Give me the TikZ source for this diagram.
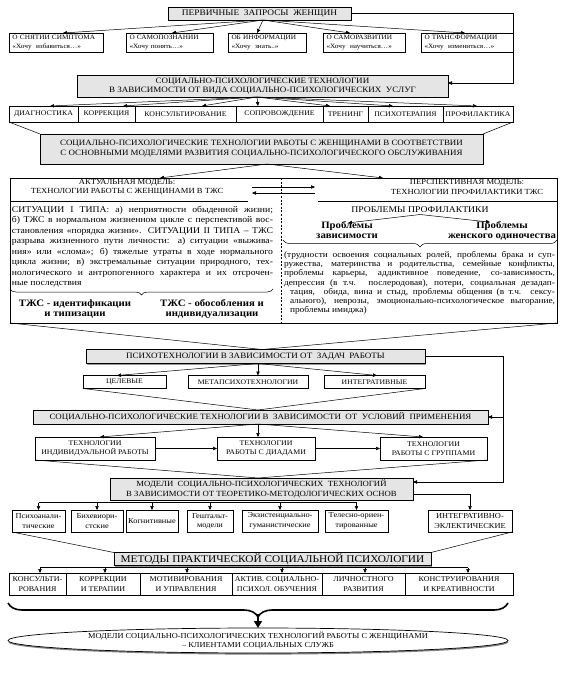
\documentclass[tikz,border=0pt]{standalone}
\usepackage{fontspec}
\setmainfont{Liberation Serif}[FakeStretch=1.1]
\usetikzlibrary{arrows.meta,shapes.geometric,shadows,decorations.pathreplacing,calc}
\newcommand\fsz[2]{\fontsize{#1}{#2}\selectfont}
\newcommand\jl[2]{\makebox[#1][s]{#2}}
\begin{document}
\begin{tikzpicture}[x=1pt,y=-1pt,
  every node/.style={inner sep=0pt,outer sep=0pt},
  box/.style={draw,line width=0.5pt,fill=white,align=center},
  gbox/.style={draw,line width=0.6pt,fill=gray!20,align=center,
     drop shadow={shadow xshift=1.3pt,shadow yshift=-1.3pt,fill=black!80}},
  arr/.style={line width=0.5pt,-{Triangle[length=4pt,width=3.4pt]}},
  ln/.style={line width=0.5pt},
  qb/.style={box,minimum height=19pt,align=left,inner xsep=3.5pt,font=\fsz{6.6}{8.2}},
  db/.style={box,minimum height=16pt,font=\fsz{7.1}{8}},
  sb/.style={box,minimum height=13pt,font=\fsz{7}{8}},
  tb/.style={box,minimum height=23pt,font=\fsz{7.1}{9.5}},
  mb/.style={box,minimum height=22pt,font=\fsz{7.6}{9.5}},
  kb/.style={box,minimum height=22pt,font=\fsz{7.3}{9.5}},
  lt/.style={anchor=base west,font=\fsz{8.8}{10}},
  rt/.style={anchor=base west,font=\fsz{8.5}{10}},
  bl/.style={align=center,font=\bfseries\fsz{9.8}{10}},
  brc/.style={ln,decorate,decoration={brace,mirror,amplitude=#1}},
]
\useasboundingbox (0,0) rectangle (565,681);
\fill[white] (0,0) rectangle (565,681);

% ---- top level
\node[gbox,minimum width=183pt,minimum height=13pt,font=\fsz{8.5}{9}] (T0) at (259.5,13.5) {ПЕРВИЧНЫЕ\ \ ЗАПРОСЫ\ \ ЖЕНЩИН};
\node[qb,text width=87pt] (Q1) at (56,42.5) {О СНЯТИИ СИМПТОМА\\«Хочу\ \ избавиться…»};
\node[qb,text width=80pt] (Q2) at (169.5,42.5) {О САМОПОЗНАНИИ\\«Хочу понять…»};
\node[qb,text width=71pt] (Q3) at (267,42.5) {ОБ ИНФОРМАЦИИ\\«Хочу\ \ знать..»};
\node[qb,text width=75pt] (Q4) at (364,42.5) {О САМОРАЗВИТИИ\\«Хочу\ \ научиться…»};
\node[qb,text width=85pt] (Q5) at (467,42.5) {О ТРАНСФОРМАЦИИ\\«Хочу\ \ измениться…»};
\coordinate (s1) at ($(T0.south)+(3.5,0)$);
\foreach \n/\d in {Q1/7,Q2/2.5,Q3/-10,Q4/-14,Q5/-2} \draw[arr] (s1) -- ([xshift=\d pt]\n.north);

\node[gbox,minimum width=371pt,minimum height=22pt,font=\fsz{8.2}{8.8}] (B2) at (262.5,86) {СОЦИАЛЬНО-ПСИХОЛОГИЧЕСКИЕ ТЕХНОЛОГИИ\\В ЗАВИСИМОСТИ ОТ ВИДА СОЦИАЛЬНО-ПСИХОЛОГИЧЕСКИХ\ \ УСЛУГ};
\coordinate (c1) at (513,83);
\draw[arr] (T0.east) -| (c1) -- (c1 -| B2.east);

\node[db,minimum width=69pt] (D1) at (43.5,114) {ДИАГНОСТИКА};
\node[db,minimum width=57pt] (D2) at (106.5,114) {КОРРЕКЦИЯ};
\node[db,minimum width=101pt] (D3) at (185.5,114) {КОНСУЛЬТИРОВАНИЕ};
\node[db,minimum width=87pt] (D4) at (279.5,114) {СОПРОВОЖДЕНИЕ};
\node[db,minimum width=45pt] (D5) at (345.5,114) {ТРЕНИНГ};
\node[db,minimum width=75pt] (D6) at (405.5,114) {ПСИХОТЕРАПИЯ};
\node[db,minimum width=70pt] (D7) at (478,114) {ПРОФИЛАКТИКА};
\coordinate (s2) at ($(B2.south)+(-5.5,0)$);
\foreach \n/\d in {D1/6.5,D2/16.5,D3/16.5,D4/-21.5,D5/-15.5,D6/-12.5,D7/-1} \draw[arr] (s2) -- ([xshift=\d pt]\n.north);

\node[gbox,minimum width=443pt,minimum height=30pt,font=\fsz{8.1}{10}] (B3) at (261.5,149) {СОЦИАЛЬНО-ПСИХОЛОГИЧЕСКИЕ ТЕХНОЛОГИИ РАБОТЫ С ЖЕНЩИНАМИ В СООТВЕТСТВИИ\\С ОСНОВНЫМИ МОДЕЛЯМИ РАЗВИТИЯ СОЦИАЛЬНО-ПСИХОЛОГИЧЕСКОГО ОБСЛУЖИВАНИЯ};
\draw[ln] (D1.south west) -- (B3.north west);
\draw[ln] (D7.south east) -- (B3.north east);

% ---- big frame
\node[draw,line width=0.8pt,minimum width=547pt,minimum height=145pt] (F) at (283.5,250.5) {};
\coordinate (s3) at ($(B3.south)+(5.5,0)$);
\draw[arr] (s3) -- ([xshift=-123.5pt]F.north);
\draw[arr] (s3) -- ([xshift=99.5pt]F.north);
\coordinate (dv) at (281,250);
\draw[ln,dash pattern=on 2pt off 1.6pt] (F.north -| dv) -- (F.south -| dv);
\coordinate (hs1) at (248,201);
\coordinate (hs2) at (318,201);
\draw[ln] (F.west |- hs1) -- (hs1);
\draw[ln] (hs2) -- (F.east |- hs2);
\node[align=center,font=\fsz{7.8}{9.3}] (HL) at (127,187.5) {АКТУАЛЬНАЯ МОДЕЛЬ:\\ТЕХНОЛОГИИ РАБОТЫ С ЖЕНЩИНАМИ В ТЖС};
\node[align=center,font=\fsz{7.8}{9.3}] (HR) at (467,187) {ПЕРСПЕКТИВНАЯ МОДЕЛЬ:\\ТЕХНОЛОГИИ ПРОФИЛАКТИКИ ТЖС};
\coordinate (a1) at (252,187);
\coordinate (a2) at (315,187);
\coordinate (a3) at (252,193);
\coordinate (a4) at (315,193);
\draw[arr] (a1) -- (a2);
\draw[arr] (a4) -- (a3);

% left text
\node[lt] (L1) at (12,212.5) {\jl{261pt}{СИТУАЦИИ I ТИПА: а) неприятности обыденной жизни;}};
\node[lt] (L2) at (12,222.9) {\jl{261pt}{б) ТЖС в нормальном жизненном цикле с перспективой вос-}};
\node[lt] (L3) at (12,233.4) {\jl{261pt}{становления «порядка жизни». СИТУАЦИИ II ТИПА – ТЖС}};
\node[lt] (L4) at (12,243.8) {\jl{261pt}{разрыва жизненного пути личности: а) ситуации «выжива-}};
\node[lt] (L5) at (12,254.2) {\jl{261pt}{ния» или «слома»; б) тяжелые утраты в ходе нормального}};
\node[lt] (L6) at (12,264.7) {\jl{261pt}{цикла жизни; в) экстремальные ситуации природного, тех-}};
\node[lt] (L7) at (12,275.1) {\jl{261pt}{нологического и антропогенного характера и их отсрочен-}};
\node[lt] (L8) at (12,285.5) {ные последствия};
\coordinate (lb1) at (10,289);
\coordinate (lb2) at (273,289);
\draw[brc=6pt] (lb1) -- (lb2);
\node[bl] (LB1) at (75,309) {ТЖС - идентификации\\и типизации};
\node[bl] (LB2) at (212,309) {ТЖС - обособления и\\индивидуализации};

% right text
\node[font=\fsz{8.8}{10}] (PP) at (420,209.5) {ПРОБЛЕМЫ ПРОФИЛАКТИКИ};
\node[bl] (PZ) at (347,230.5) {Проблемы\\зависимости};
\node[bl] (PO) at (502,230.5) {Проблемы\\женского одиночества};
\coordinate (pp0) at (420,214.5);
\draw[arr] (pp0) -- ([xshift=1pt,yshift=-1pt]PZ.north);
\draw[arr] (pp0) -- ([xshift=-12pt,yshift=-1pt]PO.north);
\coordinate (rb1) at (283,240);
\coordinate (rb2) at (557,240);
\draw[brc=7pt] (rb1) -- (rb2);
\node[rt] (R1) at (284,257.5) {\jl{271pt}{(трудности освоения социальных ролей, проблемы брака и суп-}};
\node[rt] (R2) at (284,266.7) {\jl{271pt}{ружества, материнства и родительства, семейные конфликты,}};
\node[rt] (R3) at (284,275.9) {\jl{271pt}{проблемы карьеры, аддиктивное поведение, со-зависимость,}};
\node[rt] (R4) at (284,285.1) {\jl{271pt}{депрессия (в т.ч. послеродовая), потери, социальная дезадап-}};
\node[rt] (R5) at (290,294.3) {\jl{265pt}{тация,\ \ обида, вина и стыд, проблемы общения (в т.ч. сексу-}};
\node[rt] (R6) at (290,303.5) {\jl{265pt}{ального), неврозы, эмоционально-психологическое выгорание,}};
\node[rt] (R7) at (290,312.7) {проблемы имиджа)};

% ---- psychotechnologies
\node[gbox,minimum width=339pt,minimum height=14pt,font=\fsz{8.2}{9}] (P) at (255.5,356.5) {ПСИХОТЕХНОЛОГИИ В ЗАВИСИМОСТИ ОТ\ \ ЗАДАЧ\ \ РАБОТЫ};
\coordinate (v1) at ($(P.north)+(6.5,0)$);
\draw[ln] (F.south west) -- (v1) -- (F.south east);
\node[sb,minimum width=83pt] (PC) at (124.5,382) {ЦЕЛЕВЫЕ};
\node[sb,minimum width=120pt] (PM) at (248,382) {МЕТАПСИХОТЕХНОЛОГИИ};
\node[sb,minimum width=101pt] (PI) at (374.5,382) {ИНТЕГРАТИВНЫЕ};
\coordinate (s4) at ($(P.south)+(2.5,0)$);
\foreach \n/\d in {PC/-7.5,PM/10,PI/2.5} \draw[arr] (s4) -- ([xshift=\d pt]\n.north);

\node[gbox,minimum width=455pt,minimum height=14pt,font=\fsz{8.1}{9}] (U) at (260.5,417) {СОЦИАЛЬНО-ПСИХОЛОГИЧЕСКИЕ ТЕХНОЛОГИИ В\ \ ЗАВИСИМОСТИ\ \ ОТ\ \ УСЛОВИЙ\ \ ПРИМЕНЕНИЯ};
\coordinate (v2) at ($(U.north)+(-2.5,0)$);
\draw[ln] (PC.south west) -- (v2) -- (PI.south east);
\coordinate (c2) at (503,417);
\draw[arr] (P.east) -| (c2) -- (U.east);

\node[tb,minimum width=120pt] (T1) at (95,448.5) {ТЕХНОЛОГИИ\\ИНДИВИДУАЛЬНОЙ РАБОТЫ};
\node[tb,minimum width=98pt] (T2) at (266,448.5) {ТЕХНОЛОГИИ\\РАБОТЫ С ДИАДАМИ};
\node[tb,minimum width=107pt] (T3) at (433.5,448.5) {ТЕХНОЛОГИИ\\РАБОТЫ С ГРУППАМИ};
\coordinate (s5) at ($(U.south)+(-2.5,0)$);
\foreach \n/\d in {T1/5,T2/-8,T3/-10.5} \draw[arr] (s5) -- ([xshift=\d pt]\n.north);
\draw[arr] (T1.east) -- (T2.west);
\draw[arr] (T2.east) -- (T3.west);

\node[gbox,minimum width=303pt,minimum height=22pt,font=\fsz{7.9}{10}] (M) at (261.5,489) {МОДЕЛИ\ \ СОЦИАЛЬНО-ПСИХОЛОГИЧЕСКИХ\ \ ТЕХНОЛОГИЙ\\В ЗАВИСИМОСТИ ОТ ТЕОРЕТИКО-МЕТОДОЛОГИЧЕСКИХ ОСНОВ};
\coordinate (v3) at ($(M.north)+(-3.5,0)$);
\draw[ln] (T1.south west) -- (v3) -- (T3.south east);
\coordinate (c3) at (503,482);
\draw[arr] (c2) -- (c3) -- (c3 -| M.east);

% ---- theoretical models
\node[mb,minimum width=53pt] (S1) at (38.5,521) {Психоанали-\\тические};
\node[mb,minimum width=52pt] (S2) at (97,521) {Бихевиори-\\стские};
\node[mb,minimum width=52pt] (S3) at (152,521) {Когнитивные};
\node[mb,minimum width=46pt] (S4) at (210,521) {Гештальт-\\модели};
\node[mb,minimum width=76pt] (S5) at (280,521) {Экзистенциально-\\гуманистические};
\node[mb,minimum width=63pt] (S6) at (356.5,521) {Телесно-ориен-\\тированные};
\node[mb,minimum width=84pt] (S7) at (470,521) {ИНТЕГРАТИВНО-\\ЭКЛЕКТИЧЕСКИЕ};
\coordinate (h1) at (0,502.5);
\draw[ln] (S1.north |- h1) -- (S6.north |- h1);
\foreach \n in {S1,S2,S3,S4,S5,S6} \draw[arr] (\n.north |- h1) -- (\n.north);
\draw[arr] ([yshift=-5pt]M.east) -| (S7.north);

\node[gbox,minimum width=317pt,minimum height=13pt,font=\fsz{10.3}{11}] (ME) at (272.5,559) {МЕТОДЫ ПРАКТИЧЕСКОЙ СОЦИАЛЬНОЙ ПСИХОЛОГИИ};
\draw[ln] (S1.south west) -- (ME.north west);
\draw[ln] (S7.south east) -- (ME.north east);

\node[kb,minimum width=57pt] (K1) at (37.5,584) {КОНСУЛЬТИ-\\РОВАНИЯ};
\node[kb,minimum width=74pt] (K2) at (103,584) {КОРРЕКЦИИ\\И ТЕРАПИИ};
\node[kb,minimum width=92pt] (K3) at (186,584) {МОТИВИРОВАНИЯ\\И УПРАВЛЕНИЯ};
\node[kb,minimum width=90pt] (K4) at (277,584) {АКТИВ. СОЦИАЛЬНО-\\ПСИХОЛ. ОБУЧЕНИЯ};
\node[kb,minimum width=83pt] (K5) at (363.5,584) {ЛИЧНОСТНОГО\\РАЗВИТИЯ};
\node[kb,minimum width=108pt] (K6) at (459,584) {КОНСТРУИРОВАНИЯ\\И КРЕАТИВНОСТИ};
\coordinate (h2) at (0,567.5);
\draw[ln] ([xshift=2.5pt]K1.north |- h2) -- ([xshift=9pt]K6.north |- h2);
\foreach \n/\d in {K1/2.5,K2/2,K3/1,K4/5,K5/1.5,K6/9} \draw[arr] ([xshift=\d pt]\n.north |- h2) -- ([xshift=\d pt]\n.north);

% ---- final
\coordinate (b1) at (8,603);
\coordinate (b2) at (508,603);
\draw[line width=1.6pt,decorate,decoration={brace,mirror,amplitude=14pt}] (b1) -- (b2);
\node[ellipse,draw,line width=0.7pt,fill=white,minimum width=500pt,minimum height=25pt,
  drop shadow={shadow xshift=0.4pt,shadow yshift=-1.6pt,fill=black}] (E) at (258,640.5) {};
\node[align=center,font=\fsz{7.6}{9}] (ET) at (E.center) {МОДЕЛИ СОЦИАЛЬНО-ПСИХОЛОГИЧЕСКИХ ТЕХНОЛОГИЙ РАБОТЫ С ЖЕНЩИНАМИ\\– КЛИЕНТАМИ СОЦИАЛЬНЫХ СЛУЖБ};
\coordinate (bt) at (258,614);
\draw[line width=1.2pt,-{Triangle[length=7pt,width=8pt]}] (bt) -- (E.north);
\end{tikzpicture}
\end{document}
